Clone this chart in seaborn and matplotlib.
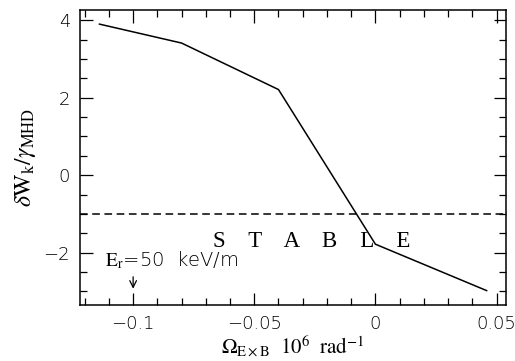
import numpy as np
import seaborn as sns
import matplotlib.pyplot as plt
from matplotlib.ticker import MultipleLocator

# valores
omega = [-0.114, -0.080, -0.040, 0.0, 0.046]
dwk = [3.90, 3.41, 2.21, -1.78, -2.98]
limite = -1.0

sns.set_theme(style="ticks")
plt.rcParams['font.family'] = ['Liberation Serif', 'DejaVu Serif']
plt.rcParams['mathtext.fontset'] = 'stix'
for k in ['text.color', 'axes.labelcolor', 'xtick.color', 'ytick.color']:
    plt.rcParams[k] = 'black'

fig = plt.figure(figsize=(5.15, 3.61), dpi=100)
ax = fig.add_axes([0.155, 0.155, 0.828, 0.817])

sns.lineplot(x=omega, y=dwk, color='black', lw=1.1, ax=ax)
ax.axhline(limite, color='black', lw=1.1, ls=(0, (5, 3)))

ax.set_xlim(-0.122, 0.054)
ax.set_ylim(-3.35, 4.26)
ax.xaxis.set_major_locator(MultipleLocator(0.05))
ax.xaxis.set_minor_locator(MultipleLocator(0.01))
ax.yaxis.set_major_locator(MultipleLocator(2))
ax.yaxis.set_minor_locator(MultipleLocator(0.5))
ax.tick_params(which='both', direction='in', top=True, right=True, width=0.9)
ax.tick_params(which='major', length=9, labelsize=13, pad=7)
ax.tick_params(which='minor', length=5)
ax.set_xticks([-0.1, -0.05, 0, 0.05])
ax.set_xticklabels(['\u22120.1', '\u22120.05', '0', '0.05'], family='DejaVu Sans', fontweight='light')
ax.set_yticks([-2, 0, 2, 4])
ax.set_yticklabels(['\u22122', '0', '2', '4'], family='DejaVu Sans', fontweight='light')
for s in ax.spines.values():
    s.set_linewidth(1.1)
    s.set_color('black')

ax.set_xlabel(r'$\Omega_{\mathrm{E\times B}}\ \ 10^{6}\ \ \mathrm{rad}^{-1}$', fontsize=15, labelpad=1)
ax.set_ylabel(r'$\delta\mathrm{W}_{\mathrm{k}}/\gamma_{\mathrm{MHD}}$', fontsize=17, labelpad=4)

ax.text(-0.0265, -1.7, 'S    T    A    B    L    E', ha='center', va='center', fontsize=16.5)
ax.annotate('', xy=(-0.1, -3.0), xytext=(-0.1, -2.55),
            arrowprops=dict(arrowstyle='->', color='black', lw=0.9))
ax.text(-0.1115, -2.2, r'$\mathrm{E_r}$=50  keV/m', ha='left', va='center', fontsize=14,
        family='DejaVu Sans', fontweight='light')

fig.savefig('out.png', dpi=100)
